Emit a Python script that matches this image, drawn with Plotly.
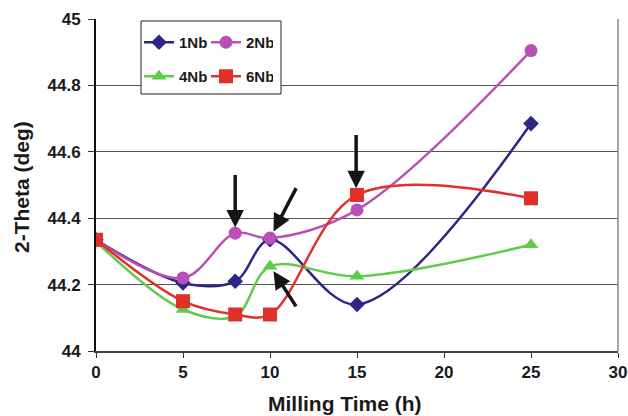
import plotly.graph_objects as go

time_h = [0, 5, 8, 10, 15, 25]
nb1 = [44.335, 44.205, 44.21, 44.335, 44.14, 44.685]
nb2 = [44.335, 44.22, 44.355, 44.34, 44.425, 44.905]
nb4 = [44.33, 44.125, 44.105, 44.255, 44.225, 44.32]
nb6 = [44.335, 44.15, 44.11, 44.11, 44.47, 44.46]

series = [
    ("1Nb", nb1, "#2e2686", "diamond", 12, "legend"),
    ("2Nb", nb2, "#bb4fb8", "circle", 13, "legend"),
    ("4Nb", nb4, "#5fcc4c", "triangle-up", 13, "legend2"),
    ("6Nb", nb6, "#e0302a", "square", 14, "legend2"),
]

FONT = "Liberation Sans, Arial, sans-serif"
TXT = "#1a1a1a"

# plot area in page pixels: x 96..618, y 19..351
PX0, PX1, PY0, PY1 = 96, 618, 19, 351
PW, PH = PX1 - PX0, PY1 - PY0


def px(x):
    return (x - PX0) / PW


def py(y):
    return (PY1 - y) / PH


fig = go.Figure()
for name, ys, col, sym, sz, lg in series:
    fig.add_trace(go.Scatter(
        x=time_h, y=ys, name=name, mode="lines+markers",
        line=dict(color=col, width=2.5, shape="spline", smoothing=1.0),
        marker=dict(symbol=sym, size=sz, color=col),
        legend=lg,
    ))

# arrows: (head x, head y, tail x, tail y) in data coords
arrows = [
    (8, 44.372, 8, 44.535),
    (10.2, 44.36, 11.55, 44.495),
    (10.2, 44.24, 11.55, 44.13),
    (14.95, 44.49, 14.95, 44.655),
]
for hx, hy, tx, ty in arrows:
    fig.add_annotation(x=hx, y=hy, ax=tx, ay=ty, xref="x", yref="y",
                       axref="x", ayref="y", showarrow=True, text="",
                       arrowhead=2, arrowsize=1.0, arrowwidth=3.5,
                       arrowcolor="#151515")

# legend box
fig.add_shape(type="rect", xref="paper", yref="paper",
              x0=px(141), x1=px(281), y0=py(94), y1=py(21),
              fillcolor="white", line=dict(color="#222", width=1),
              layer="above")

# right border
fig.add_shape(type="line", xref="paper", yref="paper", x0=1, x1=1, y0=0, y1=1,
              line=dict(color="#888", width=1.5))

# axis titles
fig.add_annotation(text="Milling Time (h)", xref="paper", yref="paper",
                   x=px(345), y=py(403), showarrow=False,
                   xanchor="center", yanchor="middle",
                   font=dict(size=21, family=FONT, color=TXT, weight="bold"))
fig.add_annotation(text="2-Theta (deg)", xref="paper", yref="paper",
                   x=px(21), y=py(187), showarrow=False,
                   xanchor="center", yanchor="middle", textangle=-90,
                   font=dict(size=21, family=FONT, color=TXT, weight="bold"))

legfont = dict(size=15, color=TXT, family=FONT, weight="bold")
fig.update_layout(
    width=628, height=416,
    margin=dict(l=PX0, r=628 - PX1, t=PY0, b=416 - PY1),
    paper_bgcolor="white", plot_bgcolor="white",
    font=dict(family=FONT, color=TXT),
    showlegend=True,
    legend=dict(orientation="h", x=px(139), y=py(26),
                xanchor="left", yanchor="top", bgcolor="rgba(0,0,0,0)",
                font=legfont, itemwidth=30, entrywidth=22, tracegroupgap=0),
    legend2=dict(orientation="h", x=px(139), y=py(60),
                 xanchor="left", yanchor="top", bgcolor="rgba(0,0,0,0)",
                 font=legfont, itemwidth=30, entrywidth=22, tracegroupgap=0),
    xaxis=dict(range=[0, 30], tickvals=[0, 5, 10, 15, 20, 25, 30],
               ticks="outside", ticklen=5, tickcolor="#333",
               showline=True, linecolor="#444", linewidth=1.5,
               showgrid=False, zeroline=False, automargin=False,
               tickfont=dict(size=17, weight="bold", family=FONT, color=TXT)),
    yaxis=dict(range=[44, 45], tickvals=[44, 44.2, 44.4, 44.6, 44.8, 45],
               ticktext=["44", "44.2", "44.4", "44.6", "44.8", "45"],
               ticks="outside", ticklen=6, tickcolor="#333",
               showline=True, linecolor="#111", linewidth=2,
               showgrid=True, gridcolor="#555", gridwidth=1, zeroline=False,
               automargin=False, ticklabelstandoff=4,
               tickfont=dict(size=17, weight="bold", family=FONT, color=TXT)),
)

fig.write_html("out.html",
               config={"displayModeBar": False},
               post_script="document.body.style.margin='0';"
                           "document.body.style.overflow='hidden';")
